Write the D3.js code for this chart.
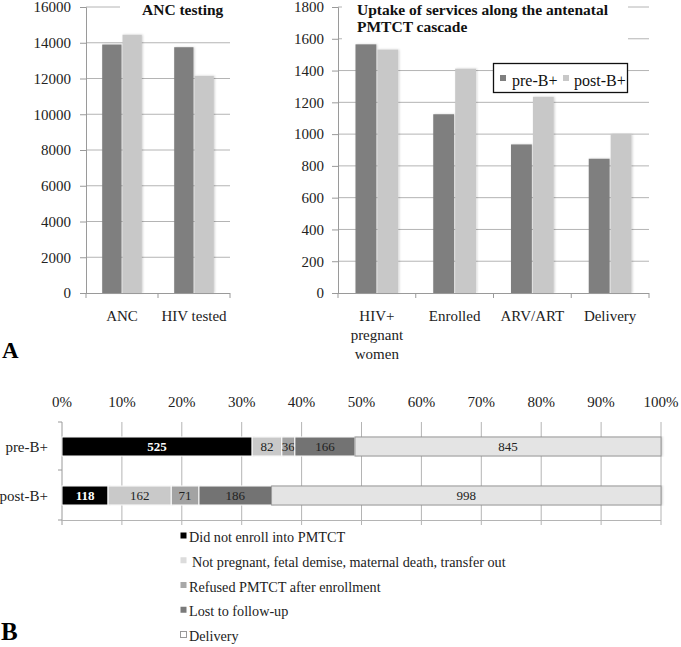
<!DOCTYPE html>
<html><head><meta charset="utf-8">
<script src="https://cdn.jsdelivr.net/npm/d3@7"></script>
<style>
body{margin:0;background:#fff;}
svg{display:block;}
</style></head>
<body><svg id="c" width="681" height="647" font-family="Liberation Serif, Times New Roman, serif"></svg>
<script>
// ---- Data ----
const series = ["pre-B+", "post-B+"];
const ancCategories = ["ANC", "HIV tested"];
const ancPre = [13900, 13750];
const ancPost = [14450, 12150];
const ancTicks = [0, 2000, 4000, 6000, 8000, 10000, 12000, 14000, 16000];

const cascadeCategories = [["HIV+", "pregnant", "women"], ["Enrolled"], ["ARV/ART"], ["Delivery"]];
const cascadePre = [1565, 1125, 935, 845];
const cascadePost = [1532, 1412, 1235, 998];
const cascadeTicks = [0, 200, 400, 600, 800, 1000, 1200, 1400, 1600, 1800];

const outcomeLabels = ["Did not enroll into PMTCT", "Not pregnant, fetal demise, maternal death, transfer out", "Refused PMTCT after enrollment", "Lost to follow-up", "Delivery"];
const outcomePre = [525, 82, 36, 166, 845];
const outcomePost = [118, 162, 71, 186, 998];
const pctTicks = [0, 0.1, 0.2, 0.3, 0.4, 0.5, 0.6, 0.7, 0.8, 0.9, 1.0];

// ---- Styles ----
const FONT = "Liberation Serif, Times New Roman, serif";
const colPre = "#7f7f7f", colPost = "#c8c8c8";
const gridCol = "#b4b4b4", axisCol = "#9a9a9a";
const segFill = ["#000000", "#c9c9c9", "#a3a3a3", "#737373", "#e4e4e4"];
const legFill = ["#000000", "#dcdcdc", "#a8a8a8", "#7a7a7a", "#ffffff"];

const svg = d3.select("#c");
const defs = svg.append("defs");
const f = defs.append("filter").attr("id", "sh").attr("x", "-20%").attr("y", "-5%").attr("width", "140%").attr("height", "110%");
f.append("feDropShadow").attr("dx", 1).attr("dy", 0).attr("stdDeviation", 1).attr("flood-color", "#000").attr("flood-opacity", 0.18);

function columnChart(opts) {
  const g = svg.append("g");
  const y = d3.scaleLinear().domain([0, opts.max]).range([293, 7]);
  const x0 = d3.scaleBand().domain(d3.range(opts.cats.length)).range([opts.x0, opts.x1]);
  const bw = x0.bandwidth();
  const x1 = d3.scaleBand().domain(series).range([bw * 0.225, bw * 0.775]).paddingInner(0.05);
  // gridlines
  g.selectAll("line.grid").data(opts.ticks.filter(t => t > 0)).join("line")
    .attr("x1", opts.x0).attr("x2", opts.x1).attr("y1", d => y(d)).attr("y2", d => y(d))
    .attr("stroke", gridCol).attr("stroke-width", 1);
  // y axis
  const ya = d3.axisLeft(y).tickValues(opts.ticks).tickSize(6).tickPadding(opts.pad).tickFormat(d3.format("d"));
  const yg = g.append("g").attr("transform", `translate(${opts.x0},0)`).call(ya).attr("font-family", FONT);
  yg.select(".domain").attr("stroke", axisCol);
  yg.selectAll(".tick line").attr("stroke", axisCol);
  yg.selectAll("text").attr("font-size", 15).attr("fill", "#222");
  // bars
  const data = [];
  opts.cats.forEach((c, i) => {
    data.push({ i, s: series[0], v: opts.pre[i] });
    data.push({ i, s: series[1], v: opts.post[i] });
  });
  g.selectAll("rect.bar").data(data).join("rect")
    .attr("x", d => x0(d.i) + x1(d.s)).attr("width", x1.bandwidth())
    .attr("y", d => y(d.v)).attr("height", d => y(0) - y(d.v))
    .attr("fill", d => d.s === series[0] ? colPre : colPost).attr("filter", "url(#sh)");
  // x axis
  g.append("line").attr("x1", opts.x0).attr("x2", opts.x1).attr("y1", y(0) + 0.5).attr("y2", y(0) + 0.5).attr("stroke", axisCol);
  const bounds = d3.range(opts.cats.length + 1).map(i => opts.x0 + i * bw);
  g.selectAll("line.xt").data(bounds).join("line")
    .attr("x1", d => d).attr("x2", d => d).attr("y1", y(0)).attr("y2", y(0) + 5).attr("stroke", axisCol);
  opts.cats.forEach((c, i) => {
    const lines = Array.isArray(c) ? c : [c];
    const t = g.append("text").attr("text-anchor", "middle").attr("font-size", 15).attr("fill", "#222");
    lines.forEach((ln, k) => t.append("tspan").attr("x", x0(i) + bw / 2).attr("y", 321 + k * 19).text(ln));
  });
  // title with white background
  g.append("rect").attr("x", opts.titleBox[0]).attr("y", 0).attr("width", opts.titleBox[1] - opts.titleBox[0]).attr("height", opts.titleBox[2]).attr("fill", "#fff");
  const tt = g.append("text").attr("font-size", 15.5).attr("font-weight", "bold").attr("fill", "#111");
  opts.title.forEach((ln, k) => tt.append("tspan").attr("x", opts.titleX).attr("y", 15 + k * 17).text(ln));
  return { g, y, x0 };
}

columnChart({ cats: ancCategories, pre: ancPre, post: ancPost, max: 16000, ticks: ancTicks, pad: 9,
  x0: 86, x1: 230, title: ["ANC testing"], titleX: 142, titleBox: [120, 230, 18] });
columnChart({ cats: cascadeCategories, pre: cascadePre, post: cascadePost, max: 1800, ticks: cascadeTicks, pad: 8,
  x0: 338, x1: 649, title: ["Uptake of services along the antenatal", "PMTCT cascade"], titleX: 357, titleBox: [342, 628, 41] });

// legend A
const lg = svg.append("g");
lg.append("rect").attr("x", 493.5).attr("y", 63.5).attr("width", 134).attr("height", 29).attr("fill", "#fff").attr("stroke", "#111").attr("stroke-width", 1.3);
[[500, colPre, series[0], 512], [563, colPost, series[1], 574]].forEach(([sx, c, t, tx]) => {
  lg.append("rect").attr("x", sx).attr("y", 75).attr("width", 6).attr("height", 6).attr("fill", c);
  lg.append("text").attr("x", tx).attr("y", 86).attr("font-size", 16).attr("fill", "#111").text(t);
});

// panel letters
svg.append("text").attr("x", 2).attr("y", 358).attr("font-size", 23).attr("font-weight", "bold").text("A");
svg.append("text").attr("x", 1).attr("y", 640).attr("font-size", 25).attr("font-weight", "bold").text("B");

// ---- Panel B: 100% stacked bars ----
const gb = svg.append("g");
const xp = d3.scaleLinear().domain([0, 1]).range([62, 661]);
const yb = d3.scaleBand().domain(series).range([422, 520]);
gb.selectAll("line.vg").data(pctTicks).join("line")
  .attr("x1", d => xp(d)).attr("x2", d => xp(d)).attr("y1", 422).attr("y2", 525)
  .attr("stroke", d => d === 0 ? axisCol : gridCol);
gb.append("line").attr("x1", 62).attr("x2", 661).attr("y1", 520.5).attr("y2", 520.5).attr("stroke", gridCol);
[422, 470, 520].forEach(v => gb.append("line").attr("x1", 58).attr("x2", 62).attr("y1", v).attr("y2", v).attr("stroke", axisCol));
gb.selectAll("text.pt").data(pctTicks).join("text")
  .attr("x", d => xp(d)).attr("y", 407).attr("text-anchor", "middle").attr("font-size", 15).attr("fill", "#222")
  .text(d => d3.format(".0%")(d));

[[series[0], outcomePre], [series[1], outcomePost]].forEach(([s, vals]) => {
  const total = d3.sum(vals);
  let cum = 0;
  const cy = yb(s) + yb.bandwidth() / 2;
  const bh = 19;
  vals.forEach((v, k) => {
    const a = cum / total, b = (cum + v) / total;
    cum += v;
    gb.append("rect").attr("x", xp(a)).attr("width", xp(b) - xp(a)).attr("y", cy - bh / 2).attr("height", bh)
      .attr("fill", segFill[k]).attr("stroke", k === 4 ? "#9a9a9a" : "#fff").attr("stroke-width", 1).attr("filter", "url(#sh)");
    gb.append("text").attr("x", (xp(a) + xp(b)) / 2).attr("y", cy + 4.5).attr("text-anchor", "middle")
      .attr("font-size", 13).attr("font-weight", k === 0 ? "bold" : "normal").attr("fill", k === 0 ? "#fff" : "#222").text(v);
  });
  gb.append("text").attr("x", 48).attr("y", cy + 5).attr("text-anchor", "end").attr("font-size", 15).attr("fill", "#222").text(s);
});

// legend B
outcomeLabels.forEach((t, k) => {
  const by = 542 + k * 24.75;
  gb.append("rect").attr("x", 180.5).attr("y", by - 9.5).attr("width", 6).attr("height", 6)
    .attr("fill", legFill[k]).attr("stroke", k === 4 ? "#999" : "none");
  gb.append("text").attr("x", k === 1 ? 192 : 189).attr("y", by).attr("font-size", 14.2).attr("fill", "#222").text(t);
});
</script></body></html>
